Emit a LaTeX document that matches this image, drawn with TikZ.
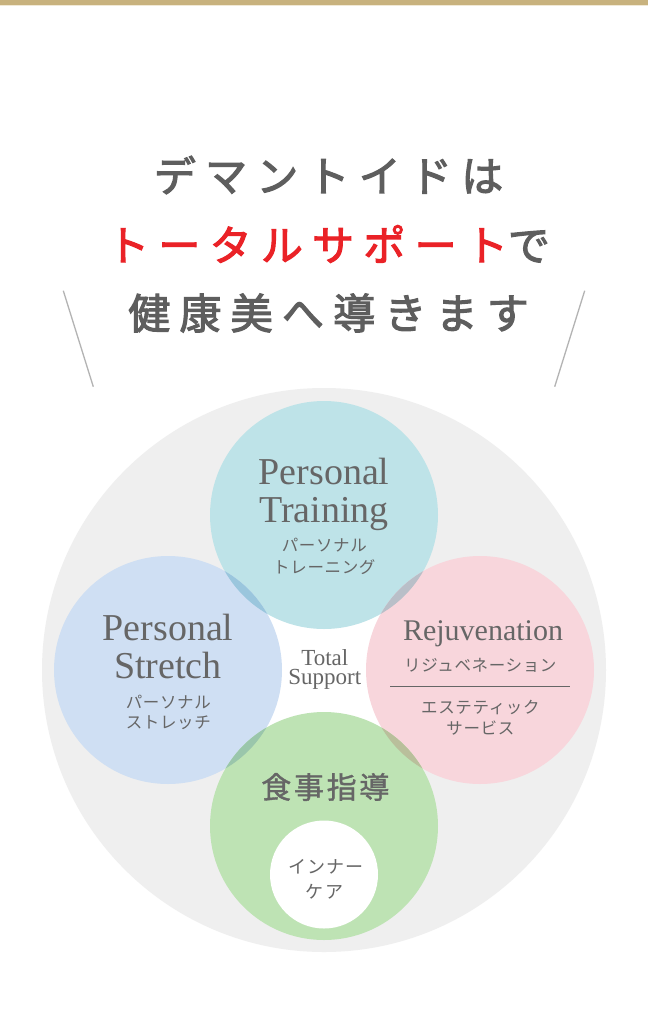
\documentclass[tikz,border=0pt]{standalone}
\usepackage{fontspec}
\setmainfont{Liberation Serif}
\newfontfamily\jp{Noto Sans CJK JP}
\newfontfamily\jptitle[LetterSpace=22,FakeBold=2.6]{Noto Sans CJK JP}
\newfontfamily\jpsub[LetterSpace=4]{Noto Sans CJK JP}
\newfontfamily\jpmid[LetterSpace=9,FakeBold=1.2]{Noto Sans CJK JP}
\newfontfamily\jpin[LetterSpace=7]{Noto Sans CJK JP}
\definecolor{gold}{HTML}{C8B27E}
\definecolor{goldlight}{HTML}{F1E9D6}
\definecolor{txt}{HTML}{666666}
\definecolor{titlegray}{HTML}{5E5E5E}
\definecolor{titlered}{HTML}{EA2227}
\definecolor{bggray}{HTML}{EFEFEF}
\definecolor{cteal}{HTML}{BEE3E8}
\definecolor{cblue}{HTML}{CFDFF3}
\definecolor{cpink}{HTML}{F8D6DC}
\definecolor{cgreen}{HTML}{BEE3B4}
\definecolor{otealblue}{HTML}{9AC6DD}
\definecolor{otealpink}{HTML}{B9BFC8}
\definecolor{ogreenblue}{HTML}{9AC6AB}
\definecolor{ogreenpink}{HTML}{B9BF9B}
\definecolor{slant}{HTML}{B3B3B3}
\begin{document}
\begin{tikzpicture}[x=1pt,y=-1pt,
  latbig/.style={font=\fontsize{38}{40}\selectfont, text=txt, anchor=base, inner sep=0pt},
  latmid/.style={font=\fontsize{30}{32}\selectfont, text=txt, anchor=base, inner sep=0pt},
  jpsmall/.style={font=\jpsub\fontsize{16.5}{18}\selectfont, text=txt, inner sep=0pt, xshift=0.35pt},
  titleline/.style={font=\jptitle\fontsize{42}{44}\selectfont, text=titlegray, inner sep=0pt, xshift=4.6pt},
  slantline/.style={draw=slant, line width=1.3pt}
]
\useasboundingbox (0,0) rectangle (648,1013);
\fill[white] (0,0) rectangle (648,1013);
% top bar
\fill[gold] (0,0) rectangle (648,5);
\fill[goldlight] (0,5) rectangle (648,6);

% title
\node[titleline] (t1) at (324,175) {デマントイドは};
\node[titleline] (t2) at (324,244) {\textcolor{titlered}{トータルサポート}で};
\node[titleline] (t3) at (324,313) {健康美へ導きます};

% slanted lines
\coordinate (la) at (63.3,290.7);
\coordinate (lb) at (93.3,386.7);
\coordinate (ra) at (584.7,290.7);
\coordinate (rb) at (554.7,386.7);
\draw[slantline] (la) -- (lb);
\draw[slantline] (ra) -- (rb);

% big background circle
\fill[bggray] (324,670) circle[radius=282pt];
\fill[white] (324,670) circle[radius=110pt];

% four circles
\fill[cteal] (324,515) circle[radius=114pt];
\fill[cblue] (168,670) circle[radius=114pt];
\fill[cpink] (480,670) circle[radius=114pt];
\fill[cgreen] (324,826) circle[radius=114pt];
% overlaps
\begin{scope}
  \clip (324,515) circle[radius=114pt];
  \fill[otealblue] (168,670) circle[radius=114pt];
  \fill[otealpink] (480,670) circle[radius=114pt];
\end{scope}
\begin{scope}
  \clip (324,826) circle[radius=114pt];
  \fill[ogreenblue] (168,670) circle[radius=114pt];
  \fill[ogreenpink] (480,670) circle[radius=114pt];
\end{scope}
% inner white circle
\fill[white] (324,874.5) circle[radius=54pt];

% top circle text
\node[latbig] (pt1) at (324,484) {Personal};
\node[latbig] (pt2) at (324,522) {Training};
\node[jpsmall] (pt3) at (324,545) {パーソナル};
\node[jpsmall] (pt4) at (324,567) {トレーニング};

% left circle text
\node[latbig] (ps1) at (168,640) {Personal};
\node[latbig] (ps2) at (168,678) {Stretch};
\node[jpsmall] (ps3) at (168,702) {パーソナル};
\node[jpsmall] (ps4) at (168,723) {ストレッチ};

% center text
\node[font=\fontsize{23}{18.5}\selectfont, text=txt, inner sep=0pt, align=center] (ts) at (324.8,669.6) {Total\\Support};

% right circle text
\node[latmid] (rj1) at (483,640) {Rejuvenation};
\node[jpsmall] (rj2) at (480,665) {リジュベネーション};
\coordinate (sepl) at (390,686.7);
\coordinate (sepr) at (570,686.7);
\draw[draw=txt, line width=1pt] (sepl) -- (sepr);
\node[jpsmall] (rj3) at (480,707) {エステティック};
\node[jpsmall] (rj4) at (480,728) {サービス};

% bottom circle text
\node[font=\jpmid\fontsize{30}{32}\selectfont, text=txt, inner sep=0pt, xshift=1.35pt] (sj) at (324,787) {食事指導};
\node[font=\jpin\fontsize{18}{20}\selectfont, text=txt, inner sep=0pt, xshift=0.6pt] (ic1) at (325.5,867) {インナー};
\node[font=\jpin\fontsize{18}{20}\selectfont, text=txt, inner sep=0pt, xshift=0.6pt] (ic2) at (324,892) {ケア};
\end{tikzpicture}
\end{document}
